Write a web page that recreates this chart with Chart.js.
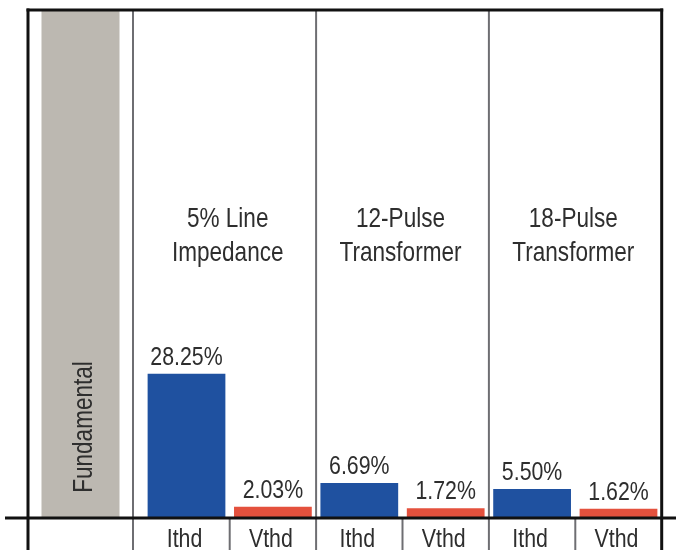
<!DOCTYPE html>
<html>
<head>
<meta charset="utf-8">
<script src="https://cdn.jsdelivr.net/npm/chart.js@4/dist/chart.umd.min.js"></script>
<style>
  html, body { margin: 0; padding: 0; background: #fff; }
  #wrap { position: relative; width: 679px; height: 550px; overflow: hidden; }
  #wrap canvas { position: absolute; left: 0; top: 0; }
</style>
</head>
<body>
<div id="wrap">
  <canvas id="fundChart" width="679" height="550"></canvas>
  <canvas id="thdChart" width="679" height="550"></canvas>
</div>
<script>
// ===== DATA =====
const fundamentalLabel = "Fundamental";
const fundamental = [100];
const groups = [["5% Line", "Impedance"], ["12-Pulse", "Transformer"], ["18-Pulse", "Transformer"]];
const subLabels = ["Ithd", "Vthd"];
const ithd = [28.25, 6.69, 5.50];
const vthd = [2.03, 1.72, 1.62];

const FONT = "'Liberation Sans', Arial, sans-serif";
const TEXT = "#2e2e2e";
const NARROW = 0.82; // squeeze Arial into an "Arial Narrow" look

// one category per bar: Ithd, Vthd for every group
const labels = groups.flatMap(() => subLabels);
const ithdData = ithd.flatMap(v => [v, null]);
const vthdData = vthd.flatMap(v => [null, v]);

function narrowText(ctx, text, x, y, size, baseline, angle) {
  ctx.save();
  ctx.translate(x, y);
  if (angle) ctx.rotate(angle);
  ctx.scale(NARROW, 1);
  ctx.font = size + "px " + FONT;
  ctx.fillStyle = TEXT;
  ctx.textAlign = "center";
  ctx.textBaseline = baseline;
  ctx.fillText(text, 0, 0);
  ctx.restore();
}

// ===== FUNDAMENTAL COLUMN =====
const fundText = {
  id: "fundText",
  afterDatasetsDraw(chart) {
    const bar = chart.getDatasetMeta(0).data[0];
    narrowText(chart.ctx, fundamentalLabel, bar.x + 4, 427, 27.5, "middle", -Math.PI / 2);
  }
};

const fundChart = new Chart(document.getElementById("fundChart"), {
  type: "bar",
  data: {
    labels: [fundamentalLabel],
    datasets: [{ data: fundamental, backgroundColor: "#bcb8b1", barPercentage: 0.743, categoryPercentage: 1 }]
  },
  options: {
    responsive: false,
    animation: false,
    devicePixelRatio: 1,
    layout: { padding: { left: 28, right: 546, top: 10, bottom: 33 } },
    plugins: { legend: { display: false }, tooltip: { enabled: false } },
    scales: {
      x: { display: false },
      y: { display: false, min: 0, max: 100 }
    }
  },
  plugins: [fundText]
});

// ===== FRAME, TITLES, LABELS =====
const decor = {
  id: "decor",
  afterDraw(chart) {
    const ctx = chart.ctx;
    const a = chart.chartArea;
    const fa = fundChart.chartArea;
    const xs = chart.scales.x;
    const w = (a.right - a.left) / labels.length;
    const H = chart.height;

    function line(x1, y1, x2, y2, color, lw) {
      ctx.beginPath();
      ctx.moveTo(x1, y1);
      ctx.lineTo(x2, y2);
      ctx.strokeStyle = color;
      ctx.lineWidth = lw;
      ctx.stroke();
    }

    ctx.save();
    // value labels
    chart.data.datasets.forEach((ds, di) => {
      chart.getDatasetMeta(di).data.forEach((el, i) => {
        const v = ds.data[i];
        if (v == null) return;
        narrowText(ctx, v.toFixed(2) + "%", el.x, el.y - 9, 26, "alphabetic");
      });
    });

    // category labels under the base line
    labels.forEach((t, i) => narrowText(ctx, t, xs.getPixelForValue(i) - 2, 547, 26, "alphabetic"));

    // group titles
    groups.forEach((g, gi) => {
      const cx = (xs.getPixelForValue(gi * 2) + xs.getPixelForValue(gi * 2 + 1)) / 2;
      g.forEach((t, li) => narrowText(ctx, t, cx - 2, 219 + li * 34, 27.5, "middle"));
    });

    // dividers
    const grey = "#6e6e72";
    line(fa.right, a.top, fa.right, H, grey, 2);
    for (let k = 1; k < labels.length; k++) {
      const x = a.left + k * w;
      if (k % 2 === 1) line(x, a.bottom, x, H, grey, 2);
      else line(x, a.top, x, H, grey, 2);
    }

    // frame
    line(fa.left, a.top - 1.5, fa.left, H, "#111", 3);
    line(a.right, a.top - 1.5, a.right, H, "#111", 3);
    line(fa.left - 1.5, a.top, a.right + 1.5, a.top, "#111", 3);
    // base line
    line(5, a.bottom + 1, 676, a.bottom + 1, "#111", 3);
    ctx.restore();
  }
};

new Chart(document.getElementById("thdChart"), {
  type: "bar",
  data: {
    labels: labels,
    datasets: [
      { label: "Ithd", data: ithdData, backgroundColor: "#1f51a0" },
      { label: "Vthd", data: vthdData, backgroundColor: "#e4513d" }
    ]
  },
  options: {
    responsive: false,
    animation: false,
    devicePixelRatio: 1,
    grouped: false,
    barPercentage: 0.9,
    categoryPercentage: 1,
    layout: { padding: { left: 143.3, right: 17.3, top: 10, bottom: 0 } },
    plugins: { legend: { display: false }, tooltip: { enabled: false } },
    scales: {
      x: {
        grid: { display: false, drawTicks: false },
        border: { display: false },
        ticks: { display: false },
        afterFit(scale) { scale.height = 33; }
      },
      y: { display: false, min: 0, max: 100 }
    }
  },
  plugins: [decor]
});
</script>
</body>
</html>
